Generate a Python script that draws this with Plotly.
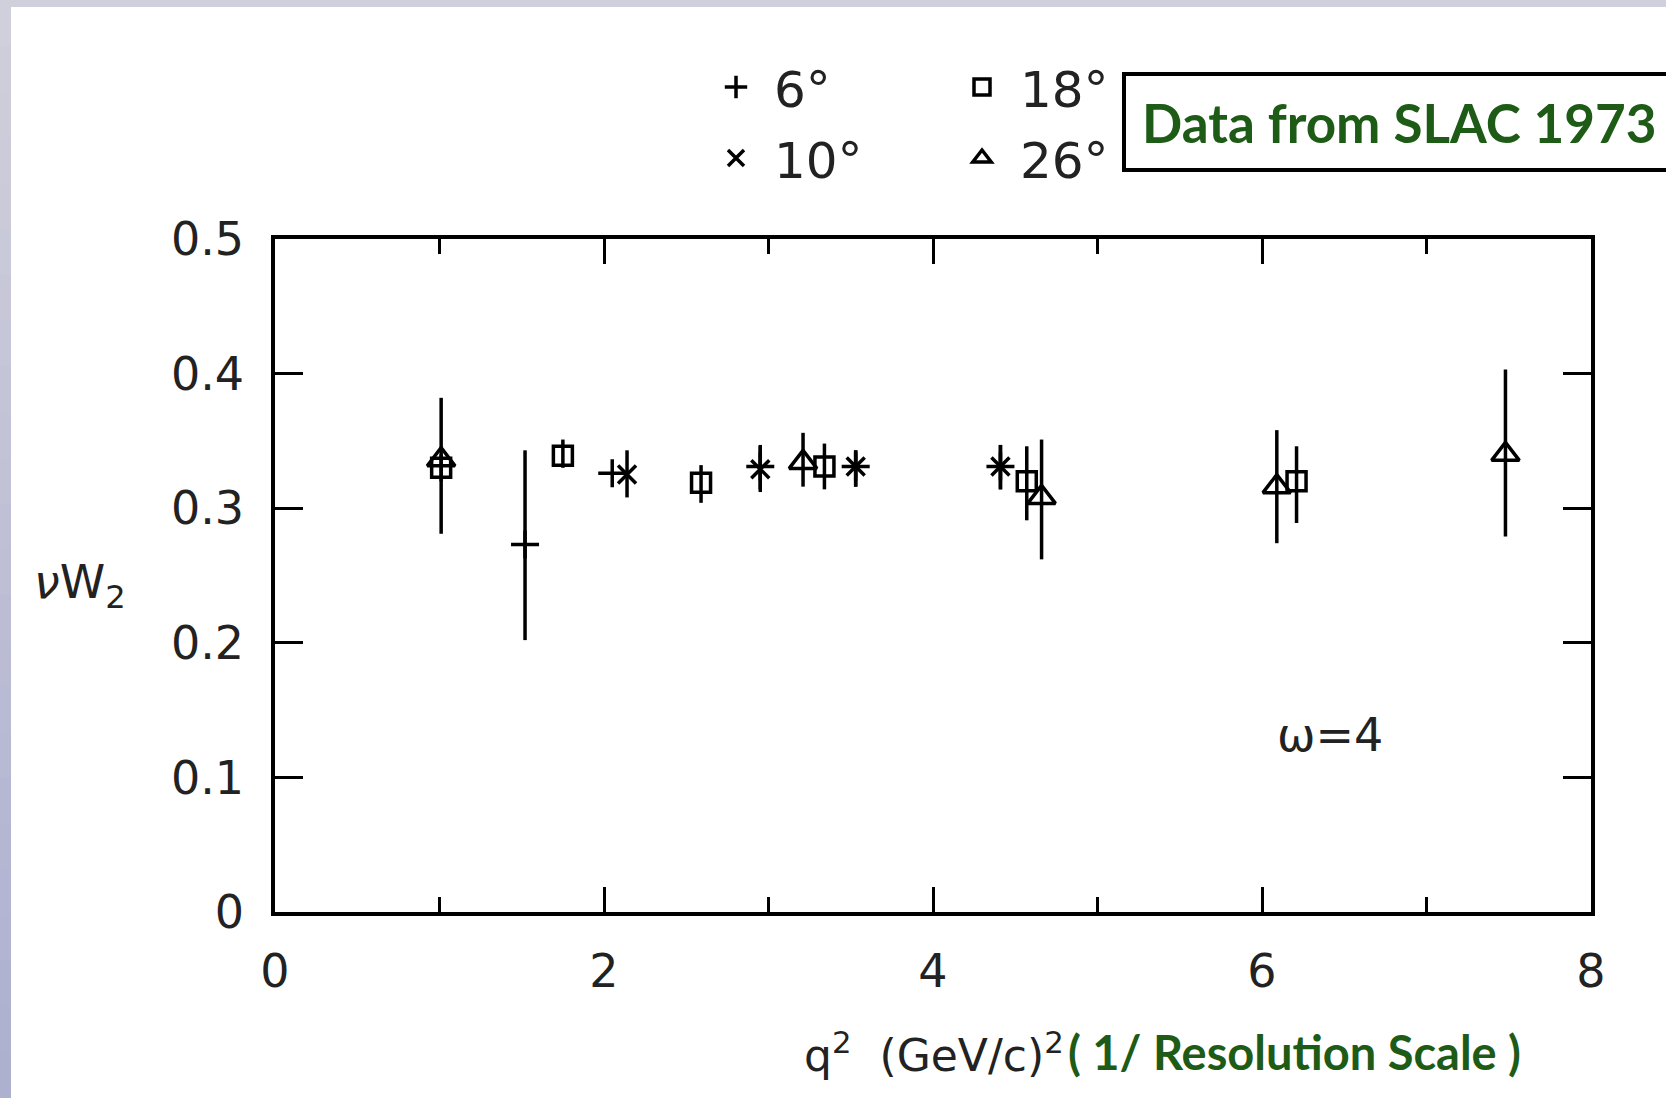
import plotly.graph_objects as go

# ---- data ----
q2_6 = [1.52, 2.05, 2.95, 3.53, 4.41]
w2_6 = [0.273, 0.326, 0.331, 0.331, 0.331]
up_6 = [0.070, 0.0, 0.016, 0.012, 0.016]
dn_6 = [0.071, 0.0, 0.017, 0.015, 0.017]

q2_10 = [2.14, 2.95, 3.53, 4.41]
w2_10 = [0.325, 0.329, 0.331, 0.331]
up_10 = [0.018, 0.017, 0.012, 0.016]
dn_10 = [0.017, 0.017, 0.015, 0.017]

q2_18 = [1.01, 1.75, 2.59, 3.34, 4.57, 6.21]
w2_18 = [0.330, 0.339, 0.319, 0.331, 0.320, 0.320]
up_18 = [0.010, 0.012, 0.013, 0.017, 0.026, 0.026]
dn_18 = [0.010, 0.009, 0.015, 0.017, 0.029, 0.031]

q2_26 = [1.01, 3.21, 4.66, 6.09, 7.48]
w2_26 = [0.336, 0.334, 0.308, 0.316, 0.340]
up_26 = [0.046, 0.022, 0.043, 0.042, 0.063]
dn_26 = [0.055, 0.018, 0.046, 0.042, 0.061]

y_ticks = [0, 0.1, 0.2, 0.3, 0.4, 0.5]
y_ticktext = ["0", "0.1", "0.2", "0.3", "0.4", "0.5"]
x_ticks = [0, 2, 4, 6, 8]

W, H = 1666, 1098
L, R, T, B = 275, 75, 239, 186
PW, PH = W - L - R, H - T - B
GREEN = "#1d5b16"
FONT = "DejaVu Sans"


def px(x):
    return (x - L) / PW


def py(y):
    return (H - B - y) / PH


def err(up, dn):
    return dict(type="data", symmetric=False, array=up, arrayminus=dn,
                thickness=3.5, width=0, color="black")


fig = go.Figure()
fig.add_trace(go.Scatter(
    x=q2_6, y=w2_6, mode="markers", name="6°", legend="legend", legendgroup="a",
    error_y=err(up_6, dn_6),
    marker=dict(symbol="cross-thin-open", size=20, color="black",
                line=dict(width=3.5, color="black"))))
fig.add_trace(go.Scatter(
    x=q2_10, y=w2_10, mode="markers", name="10°", legend="legend", legendgroup="b",
    error_y=err(up_10, dn_10),
    marker=dict(symbol="x-thin-open", size=18, color="black",
                line=dict(width=3.5, color="black"))))
fig.add_trace(go.Scatter(
    x=q2_18, y=w2_18, mode="markers", name="18°", legend="legend2", legendgroup="c",
    error_y=err(up_18, dn_18),
    marker=dict(symbol="square-open", size=19, color="black",
                line=dict(width=3.5, color="black"))))
fig.add_trace(go.Scatter(
    x=q2_26, y=w2_26, mode="markers", name="26°", legend="legend2", legendgroup="d",
    error_y=err(up_26, dn_26),
    marker=dict(symbol="triangle-up-open", size=24, color="black",
                line=dict(width=3.5, color="black"))))

axis_common = dict(showgrid=False, zeroline=False, showline=True, linecolor="black",
                   linewidth=3.5, mirror="ticks", ticks="inside", tickcolor="black",
                   tickwidth=2.5, tickfont=dict(family=FONT, size=46, color="#222"))

fig.update_xaxes(range=[0, 8], tickvals=x_ticks, ticklen=25,
                 minor=dict(dtick=1, ticks="inside", ticklen=15, tickwidth=2.5,
                            tickcolor="black"),
                 ticklabelstandoff=16, **axis_common)
fig.update_yaxes(range=[0, 0.5], tickvals=y_ticks, ticktext=y_ticktext, ticklen=28,
                 ticklabelstandoff=18, **axis_common)

legend_common = dict(orientation="v", xanchor="left", yanchor="top",
                     bgcolor="rgba(0,0,0,0)", tracegroupgap=3, itemwidth=66,
                     font=dict(family=FONT, size=50, color="#222"))

shapes = []
# top strip and left gradient strip
shapes.append(dict(type="rect", xref="paper", yref="paper", x0=px(0), x1=px(W),
                   y0=py(7), y1=py(0), fillcolor="#cfd0dc", line=dict(width=0),
                   layer="below"))
n = 24
for i in range(n):
    t = i / (n - 1)
    r = int(208 - t * (208 - 174))
    g = int(208 - t * (208 - 176))
    b = int(220 - t * (220 - 208))
    shapes.append(dict(type="rect", xref="paper", yref="paper",
                       x0=px(0), x1=px(11),
                       y0=py(min(H, H * (i + 1) / n + 3)), y1=py(H * i / n),
                       fillcolor=f"rgb({r},{g},{b})", line=dict(width=0),
                       layer="below"))
# box around "Data from SLAC 1973"
shapes.append(dict(type="rect", xref="paper", yref="paper", x0=px(1124), x1=px(1700),
                   y0=py(170), y1=py(74), line=dict(width=4, color="black"),
                   fillcolor="rgba(0,0,0,0)"))

annotations = [
    dict(text="Data from SLAC 1973", xref="paper", yref="paper", x=px(1140), y=py(123),
         xanchor="left", yanchor="middle", showarrow=False,
         font=dict(family="Lato", size=53, color=GREEN, weight="bold")),
    dict(text="<i>ν</i>W<sub>2</sub>", xref="paper", yref="paper", x=px(80), y=py(585),
         xanchor="center", yanchor="middle", showarrow=False,
         font=dict(family=FONT, size=46, color="#222")),
    dict(text="ω=4", xref="paper", yref="paper", x=px(1330), y=py(735),
         xanchor="center", yanchor="middle", showarrow=False,
         font=dict(family=FONT, size=46, color="#222")),
    dict(text="q<sup>2</sup>  (GeV/c)<sup>2</sup>", xref="paper", yref="paper",
         x=px(1066), y=py(1052), xanchor="right", yanchor="middle", showarrow=False,
         font=dict(family=FONT, size=44, color="#222")),
    dict(text="( 1/ Resolution Scale )", xref="paper", yref="paper",
         x=px(1066), y=py(1052), xanchor="left", yanchor="middle", showarrow=False,
         font=dict(family="Lato", size=47, color=GREEN, weight="bold")),
]

fig.update_layout(
    width=W, height=H, autosize=False,
    margin=dict(l=L, r=R, t=T, b=B),
    paper_bgcolor="white", plot_bgcolor="white",
    showlegend=True,
    legend=dict(x=px(698), y=py(48), **legend_common),
    legend2=dict(x=px(944), y=py(48), **legend_common),
    shapes=shapes,
    annotations=annotations,
)

fig.write_html("out.html")
